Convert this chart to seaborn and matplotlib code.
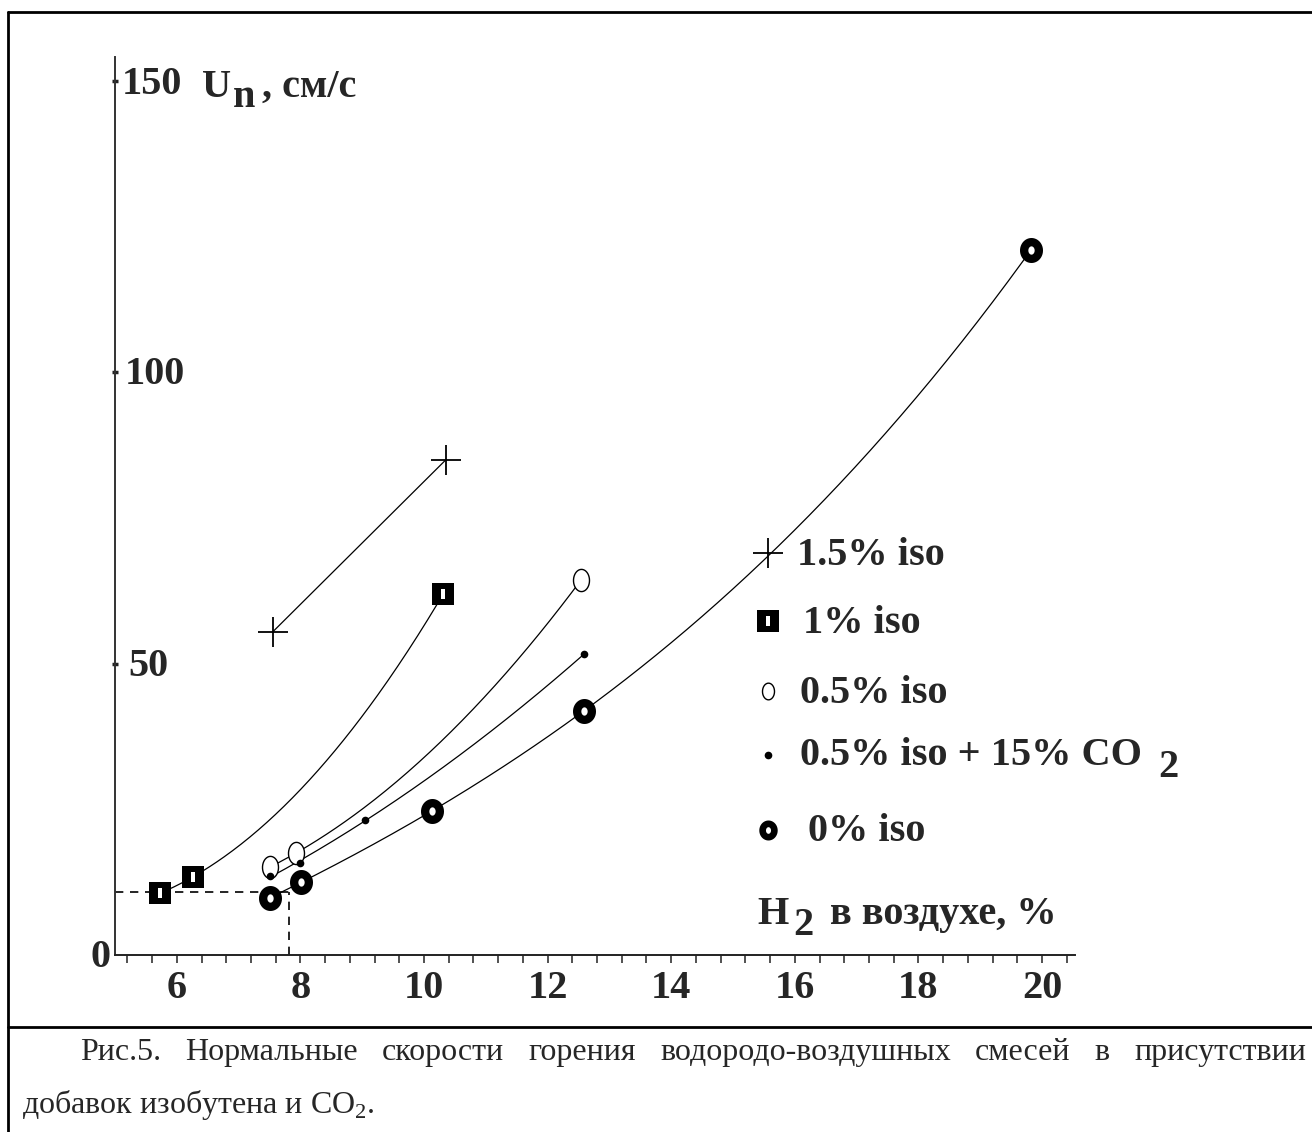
import numpy as np
import pandas as pd
import matplotlib
matplotlib.use("Agg")
import matplotlib.pyplot as plt
import seaborn as sns
from matplotlib.path import Path
from matplotlib.lines import Line2D

sns.set_theme(style="white")
plt.rcParams['font.family'] = ['Liberation Serif', 'DejaVu Serif']
plt.rcParams['mathtext.fontset'] = 'custom'
plt.rcParams['mathtext.rm'] = 'Liberation Serif'

# ---------------- data ----------------
h2_iso15 = [7.55, 10.35]
un_iso15 = [55.4, 84.9]
h2_iso10 = [5.73, 6.26, 10.31]
un_iso10 = [10.6, 13.4, 61.9]
h2_iso05 = [7.51, 7.93, 12.54]
un_iso05 = [15.1, 17.5, 64.3]
h2_iso05co2 = [7.51, 7.99, 9.05, 12.59]
un_iso05co2 = [13.6, 15.8, 23.2, 51.6]
h2_iso00 = [7.51, 8.01, 10.13, 12.59, 19.82]
un_iso00 = [9.8, 12.5, 24.7, 41.9, 120.9]
ref_h2 = 7.82
ref_un = 10.8

x_ticks = [6, 8, 10, 12, 14, 16, 18, 20]
x_tick_labels = ["6", "8", "10", "12", "14", "16", "18", "20"]
y_ticks = [0, 50, 100, 150]
y_tick_labels = ["0", "50", "100", "150"]
legend_labels = ["1.5% iso", "1% iso", "0.5% iso", "0.5% iso + 15% CO", "0% iso"]
caption_line1 = "Рис.5. Нормальные скорости горения водородо-воздушных смесей в присутствии"
caption_line2 = "добавок изобутена и CO$_2$."

W, H = 1312, 1132
fig = plt.figure(figsize=(W / 100, H / 100), dpi=100)
fig.patch.set_facecolor("white")


def fx(x):
    return x / W


def fy(y):
    return 1 - y / H


ax = fig.add_axes([fx(115), fy(955), (1075 - 115) / W, (955 - 57) / H])
ax.set_facecolor("none")
ax.set_xlim(5, 5 + 960 / 61.8)
ax.set_ylim(0, 898 / 5.83)
for s in ["top", "right"]:
    ax.spines[s].set_visible(False)
ax.spines["left"].set_color("#333333")
ax.spines["bottom"].set_color("#222222")
ax.spines["left"].set_linewidth(1.4)
ax.spines["bottom"].set_linewidth(1.4)

ax.set_xticks(x_ticks)
ax.set_xticklabels(x_tick_labels, fontsize=29, fontweight="bold")
ax.set_xticks(np.arange(5.2, 20.5, 0.4), minor=True)
ax.tick_params(axis="x", which="both", direction="out", length=6, width=1.2,
               color="#333333", bottom=True, pad=5)
ax.set_yticks(y_ticks[1:])
ax.set_yticklabels([])
ax.tick_params(axis="y", which="major", direction="inout", length=5, width=2.5,
               color="#222222", left=True)

# y tick labels as in the original (inside the axis)
ax.text(5.11, 149.3, y_tick_labels[3], fontsize=29, fontweight="bold", va="center", ha="left")
ax.text(5.16, 99.5, y_tick_labels[2], fontsize=29, fontweight="bold", va="center", ha="left")
ax.text(5.22, 49.5, y_tick_labels[1], fontsize=29, fontweight="bold", va="center", ha="left")
ax.text(4.93, -2.0, y_tick_labels[0], fontsize=29, fontweight="bold", va="baseline",
        ha="right", clip_on=False)

# dashed reference lines
ax.plot([5, ref_h2], [ref_un, ref_un], color="black", lw=1.2, ls=(0, (5, 4)))
ax.plot([ref_h2, ref_h2], [0, ref_un], color="black", lw=1.2, ls=(0, (5, 4)))


def smooth(xs, ys, deg):
    xs = np.asarray(xs)
    ys = np.asarray(ys)
    if len(xs) <= 2:
        return xs, ys
    c = np.polyfit(xs, ys, min(deg, len(xs) - 1))
    xx = np.linspace(xs.min(), xs.max(), 200)
    return xx, np.polyval(c, xx)


series = [
    (h2_iso15, un_iso15, 2),
    (h2_iso10, un_iso10, 2),
    (h2_iso05, un_iso05, 2),
    (h2_iso05co2, un_iso05co2, 2),
    (h2_iso00, un_iso00, 3),
]
for xs, ys, d in series:
    xx, yy = smooth(xs, ys, d)
    df = pd.DataFrame({"x": xx, "y": yy})
    sns.lineplot(data=df, x="x", y="y", ax=ax, color="black", lw=0.9,
                 sort=False, estimator=None)

ax.set_xlabel("")
ax.set_ylabel("")

# marker shapes
t = np.linspace(0, 2 * np.pi, 40)
ellipse_open = Path(np.column_stack([0.36 * np.cos(t), 0.5 * np.sin(t)]), closed=True)
ellipse_ring = Path(np.column_stack([0.44 * np.cos(t), 0.5 * np.sin(t)]), closed=True)
slot = Path([(-0.2, -0.5), (0.2, -0.5), (0.2, 0.5), (-0.2, 0.5), (-0.2, -0.5)], closed=True)


def mark(xs, ys, kind, scale=1.0):
    if kind == "plus":
        ax.plot(xs, ys, ls="none", marker="+", ms=22 * scale, mew=1.3, color="black")
    elif kind == "square":
        ax.plot(xs, ys, ls="none", marker="s", ms=16 * scale, color="black", mew=0)
        ax.plot(xs, ys, ls="none", marker=slot, ms=7 * scale, color="white", mew=0)
    elif kind == "open":
        ax.plot(xs, ys, ls="none", marker=ellipse_open, ms=16 * scale, mfc="white",
                mec="black", mew=1.0)
    elif kind == "dot":
        ax.plot(xs, ys, ls="none", marker="o", ms=5.5 * scale, color="black", mew=0)
    elif kind == "ring":
        ax.plot(xs, ys, ls="none", marker=ellipse_ring, ms=12 * scale, mfc="white",
                mec="black", mew=6.0 * scale)


mark(h2_iso15, un_iso15, "plus")
mark(h2_iso10, un_iso10, "square")
mark(h2_iso05, un_iso05, "open")
mark(h2_iso05co2, un_iso05co2, "dot")
mark(h2_iso00, un_iso00, "ring")

# legend markers (drawn on the plot, as in the original)
lx = 5 + (768 - 115) / 61.8
leg_y_px = [553, 621, 691, 755, 830]
kinds = ["plus", "square", "open", "dot", "ring"]
scales = [1.0, 0.95, 0.75, 1.0, 0.8]
for ypx, k, sc in zip(leg_y_px, kinds, scales):
    mark([lx], [(955 - ypx) / 5.83], k, sc)

FS = 29
bold = dict(fontsize=FS, fontweight="bold", va="baseline", ha="left")
leg_text_pos = [(797, 565), (803, 633), (800, 703), (800, 765), (808, 841)]
for (px, py), lab in zip(leg_text_pos, legend_labels):
    fig.text(fx(px), fy(py), lab, **bold)
fig.text(fx(1158), fy(777), "2", **bold)

# axis titles
fig.text(fx(202), fy(97), "U", **bold)
fig.text(fx(233), fy(107), "n", **bold)
fig.text(fx(262), fy(97), ", см/с", **bold)
fig.text(fx(757), fy(924), "H", **bold)
fig.text(fx(793), fy(935), "2", **bold)
fig.text(fx(830), fy(924), "в воздухе, %", **bold)

# frame
for (x0, y0, x1, y1) in [(8, 12, 1312, 12), (8, 12, 8, 1132), (8, 1027, 1312, 1027)]:
    fig.add_artist(Line2D([fx(x0), fx(x1)], [fy(y0), fy(y1)], color="black", lw=2,
                          transform=fig.transFigure))

# caption (justified first line)
CFS = 23
renderer = fig.canvas.get_renderer()
words = caption_line1.split()
objs = [fig.text(0, fy(1060), w, fontsize=CFS, va="baseline", ha="left") for w in words]
widths = [o.get_window_extent(renderer).width for o in objs]
left, right = 80, 1306
gap = (right - left - sum(widths)) / (len(words) - 1)
xpos = left
for o, wd in zip(objs, widths):
    o.set_x(fx(xpos))
    xpos += wd + gap
fig.text(fx(22), fy(1113), caption_line2, fontsize=CFS, va="baseline", ha="left")

fig.savefig("out.png", dpi=100)
